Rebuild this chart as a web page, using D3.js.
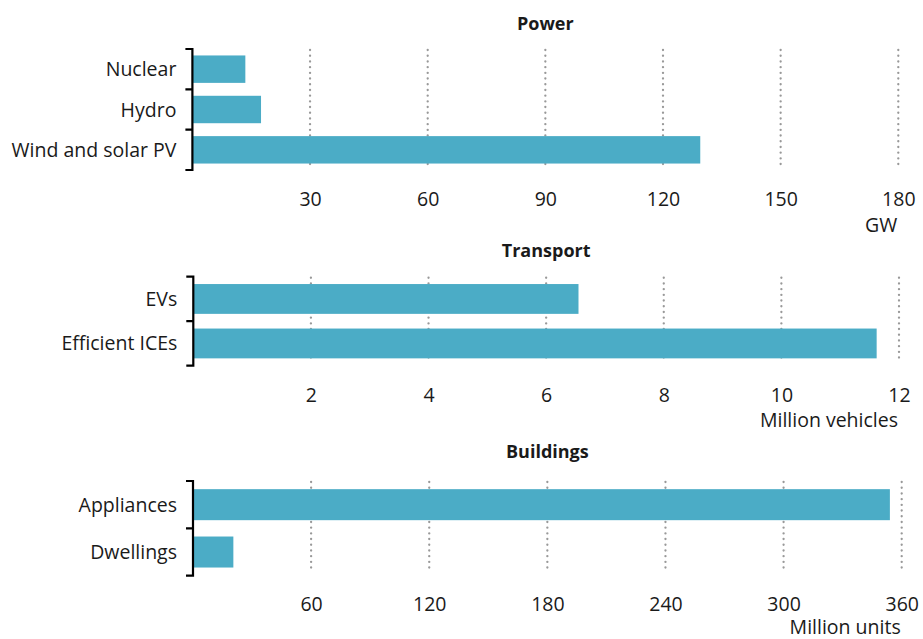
<!DOCTYPE html>
<html><head><meta charset="utf-8">
<script src="https://cdn.jsdelivr.net/npm/d3@7"></script>
<style>
html,body{margin:0;padding:0;background:#fff;}
svg text{font-family:"Open Sans",sans-serif;fill:#1a1a1a;}
</style></head>
<body><svg id="chart" width="923" height="639"></svg>
<script>
// ---- data ----
const powerCats = ["Nuclear", "Hydro", "Wind and solar PV"];
const powerVals = [13.5, 17.5, 129.5];
const powerTicks = [30, 60, 90, 120, 150, 180];

const transportCats = ["EVs", "Efficient ICEs"];
const transportVals = [6.55, 11.62];
const transportTicks = [2, 4, 6, 8, 10, 12];

const buildingsCats = ["Appliances", "Dwellings"];
const buildingsVals = [354, 20.5];
const buildingsTicks = [60, 120, 180, 240, 300, 360];

const panelTitles = ["Power", "Transport", "Buildings"];
const panelUnits = ["GW", "Million vehicles", "Million units"];

// ---- layout ----
const svg = d3.select("#chart");
const BAR = "#4BACC6";
const FS = "19.5px";
const panels = [
  {title: panelTitles[0], unit: panelUnits[0], cats: powerCats, vals: powerVals, ticks: powerTicks,
   x0: 192.4, x1: 898.3, y0: 49, y1: 170, pi: 0.32, titleY: 30, tickY: 206, unitY: 232, gridEnd: 167},
  {title: panelTitles[1], unit: panelUnits[1], cats: transportCats, vals: transportVals, ticks: transportTicks,
   x0: 193.3, x1: 899, y0: 276.7, y1: 365.7, pi: 0.33, titleY: 257, tickY: 402, unitY: 427, gridEnd: 362},
  {title: panelTitles[2], unit: panelUnits[2], cats: buildingsCats, vals: buildingsVals, ticks: buildingsTicks,
   x0: 193, x1: 901.7, y0: 481, y1: 575.7, pi: 0.345, titleY: 458, tickY: 611, unitY: 634, gridEnd: 572}
];

panels.forEach(p => {
  const g = svg.append("g");
  const x = d3.scaleLinear().domain([0, p.ticks[p.ticks.length - 1]]).range([p.x0, p.x1]);
  const y = d3.scaleBand().domain(p.cats).range([p.y0, p.y1]).paddingInner(p.pi).paddingOuter(p.pi / 2);

  // title
  g.append("text").attr("x", (p.x0 + p.x1) / 2).attr("y", p.titleY)
    .attr("text-anchor", "middle").style("font-size", "18px").style("font-weight", "bold").text(p.title);

  // dotted gridlines
  g.selectAll("line.grid").data(p.ticks).join("line").attr("class", "grid")
    .attr("x1", d => x(d)).attr("x2", d => x(d))
    .attr("y1", p.y0 + 1).attr("y2", p.gridEnd)
    .attr("stroke", "#999").attr("stroke-width", 2.3).attr("stroke-linecap", "round")
    .attr("stroke-dasharray", "0.1 5.6");

  // bars
  g.selectAll("rect.bar").data(p.cats).join("rect").attr("class", "bar")
    .attr("x", x(0)).attr("y", d => y(d))
    .attr("width", (d, i) => x(p.vals[i]) - x(0))
    .attr("height", y.bandwidth())
    .attr("fill", BAR);

  // bracket axis
  const step = y.step();
  const [r0, r1] = y.range();
  let path = `M${p.x0 - 7},${r0}H${p.x0}V${r1}H${p.x0 - 7}`;
  for (let i = 1; i < p.cats.length; i++) {
    const yy = r0 + i * step;
    path += `M${p.x0 - 7},${yy}H${p.x0}`;
  }
  g.append("path").attr("d", path).attr("fill", "none").attr("stroke", "#000").attr("stroke-width", 2.2);

  // category labels
  g.selectAll("text.cat").data(p.cats).join("text").attr("class", "cat")
    .attr("x", p.x0 - 16).attr("y", d => y(d) + y.bandwidth() / 2)
    .attr("dy", "0.36em").attr("text-anchor", "end").style("font-size", FS).text(d => d);

  // tick labels
  const ax = d3.axisBottom(x).tickValues(p.ticks).tickSize(0).tickPadding(0);
  const axG = g.append("g").attr("transform", `translate(0,${p.tickY})`).call(ax);
  axG.select(".domain").remove();
  axG.selectAll("text").attr("dy", null).attr("y", 0).style("font-size", FS)
    .style("font-family", "'Open Sans',sans-serif").attr("fill", "#1a1a1a");

  // unit
  g.append("text").attr("x", p.x1 - 1).attr("y", p.unitY).attr("text-anchor", "end")
    .style("font-size", FS).text(p.unit);
});
</script></body></html>
